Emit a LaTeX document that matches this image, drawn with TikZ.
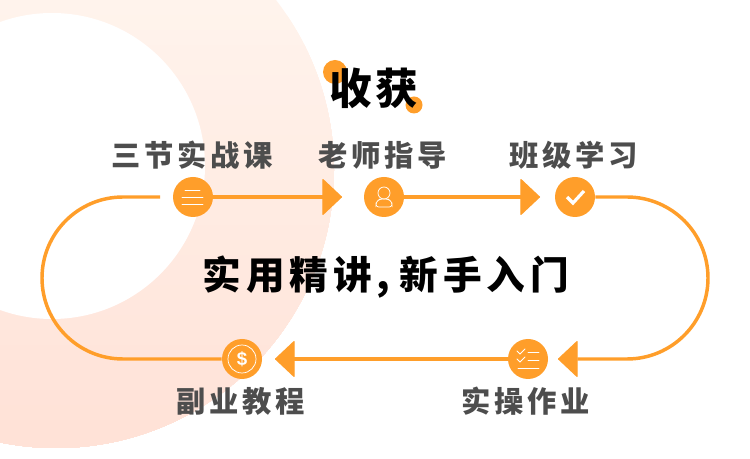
\documentclass[tikz,border=0pt]{standalone}
\usepackage{fontspec}
\newfontfamily\cjk{Noto Sans CJK SC}
\newfontfamily\cjkheavy{Noto Sans CJK SC Black}
\usetikzlibrary{arrows.meta}
\definecolor{zorange}{HTML}{FF9E2A}
\definecolor{ztext}{HTML}{4D4D4D}
\definecolor{zpeachA}{HTML}{FFF3EC}
\definecolor{zpeachB}{HTML}{FFE1D6}
\begin{document}
\begin{tikzpicture}[
  x=0.75pt, y=-0.75pt,
  stepdot/.style={circle, fill=zorange, minimum size=30pt, inner sep=0pt},
  steplbl/.style={font=\cjk\bfseries\fontsize{22}{26}\selectfont\addfontfeature{LetterSpace=12.5}, text=ztext},
  track/.style={line width=2.6pt, draw=zorange},
  tip/.style={-{Triangle[length=15pt, width=28pt, line width=1pt, round, fill=zorange]}},
  icon/.style={draw=white, line width=0.55pt, line cap=round}
]
\useasboundingbox (0,0) rectangle (750,459);

% Background
\begin{scope}
  \clip (56,170) circle (278);
  \foreach \i in {0,...,30} {
    \pgfmathtruncatemacro\mixval{100*\i/30}
    \fill[zpeachB!\mixval!zpeachA] (-230,{\i*15}) rectangle (340,460);
  }
\end{scope}
\fill[white] (52,166) circle (153);

% Title dots
\fill[zorange] (335,72) circle (12);
\fill[zorange] (414,105) circle (8.5);
\node[font=\cjk\bfseries\fontsize{32}{36}\selectfont\addfontfeature{LetterSpace=8}, text=black] (title) at (374,88) {收获};

% Steps (top row)
\node[stepdot] (keA) at (193,197) {};
\node[stepdot] (laoshi) at (384,197) {};
\node[stepdot] (banji) at (575,197) {};

% Steps (bottom row)
\node[stepdot] (zuoye) at (528,359) {};
\node[stepdot] (fuye) at (242,359) {};

% Free ends
\coordinate (tipA) at (342,197);
\coordinate (tipB) at (540,197);
\coordinate (tipC) at (558,359);
\coordinate (tipD) at (275,359);
\coordinate (startA) at (160,197);

% Connectors
\draw[track, tip] (keA) -- (tipA);
\draw[track, tip] (laoshi) -- (tipB);
\draw[track, tip, rounded corners=60.75pt] (banji) -- (708,197) -- (708,359) -- (tipC);
\draw[track, tip] (zuoye) -- (tipD);
\draw[track, rounded corners=60.75pt] (startA) -- (42,197) -- (42,359) -- (fuye);

% Labels
\node[steplbl] (lblA) at (192,155) {三节实战课};
\node[steplbl] (lblB) at (383,155) {老师指导};
\node[steplbl] (lblC) at (574,155) {班级学习};
\node[steplbl] (lblD) at (526,401) {实操作业};
\node[steplbl] (lblE) at (241,401) {副业教程};

% Middle line
\node[font=\cjkheavy\fontsize{29}{32}\selectfont\addfontfeature{LetterSpace=12.5}, text=black] (slogan) at (386,277) {实用精讲,\kern7pt 新手入门};

% Icons
\begin{scope}[shift={(keA)}]
  \draw[icon] (-8,-7) -- (7,-7);
  \draw[icon] (-11,0) -- (10,0);
  \draw[icon] (-11,7) -- (10,7);
\end{scope}
\begin{scope}[shift={(laoshi)}]
  \draw[icon] (0,-4) circle (6);
  \draw[icon, rounded corners=2pt] (-8,10) -- (-8,5) -- (-4,2) -- (4,2) -- (8,5) -- (8,10) -- cycle;
\end{scope}
\begin{scope}[shift={(banji)}]
  \draw[white, line width=2.4pt] (-8,0) -- (-2,6) -- (9,-6);
\end{scope}
\begin{scope}[shift={(zuoye)}]
  \draw[icon] (-11,-8) -- (-8,-5) -- (-3,-10);
  \draw[icon] (-11,0) -- (-8,3) -- (-3,-2);
  \draw[icon] (0,-7) -- (11,-7);
  \draw[icon] (0,1) -- (11,1);
  \draw[icon] (-10,9) -- (11,9);
\end{scope}
\begin{scope}[shift={(fuye)}]
  \draw[icon] (0,0) circle (14);
\end{scope}
\node[font=\fontspec{Liberation Sans Bold}\fontsize{14}{16}\selectfont, text=white, inner sep=0pt] (dollar) at (fuye) {\$};
\end{tikzpicture}
\end{document}
